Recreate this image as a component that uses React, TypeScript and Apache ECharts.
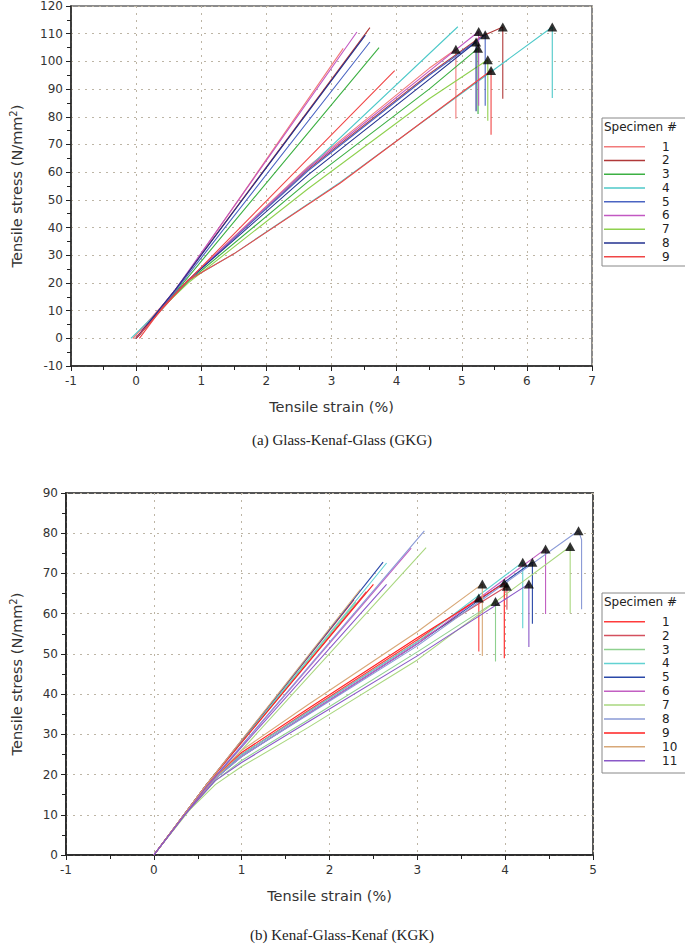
import React, { useEffect, useRef } from 'react';
import * as echarts from 'echarts';

// ---------- (a) Glass-Kenaf-Glass (GKG) ----------
const gkgNames = ['1', '2', '3', '4', '5', '6', '7', '8', '9'];
const gkgColors = ['#f27a7a', '#b03838', '#3cb043', '#4ec9c9', '#4a64c2', '#c258c2', '#8fd14f', '#22308f', '#f04646'];
const gkgStrainRange = [-1, 7];
const gkgStressRange = [-10, 120];
// steep (straight) traces
const gkgSteep: number[][][] = [
  [[-0.05, 0], [0.6, 17], [3.18, 104.7]],
  [[0, 0], [0.6, 17.5], [3.59, 112.2]],
  [[0, 0], [0.6, 16.5], [3.73, 105]],
  [[0, 0], [0.7, 18.5], [4.94, 112.5]],
  [[0, 0], [0.6, 17], [3.59, 107]],
  [[0, 0], [0.6, 17.5], [3.39, 110.6]],
  [],
  [[0, 0], [0.6, 17.5], [3.52, 109.5]],
  [[0, 0], [0.7, 18.5], [3.97, 96.7]],
];
// bilinear traces up to failure
const gkgCurve: number[][][] = [
  [[-0.05, 0], [0.4, 11], [0.8, 21], [2.64, 62], [4.5, 97.5]],
  [[0, 0], [0.4, 11], [0.8, 21], [2.64, 61], [4.5, 95.5], [5.3, 109]],
  [[0, 0], [0.4, 11], [0.8, 20.5], [2.64, 56.6], [4.5, 90]],
  [[-0.08, 0], [0.4, 11], [0.8, 21], [1.5, 30.5], [3.13, 56.3], [5.0, 88.5]],
  [[0, 0], [0.4, 11], [0.8, 21], [2.64, 60.5], [4.5, 95]],
  [[0, 0], [0.4, 11], [0.8, 21], [2.64, 61.5], [4.5, 96.5]],
  [[0, 0], [0.4, 11], [0.8, 20], [2.64, 54], [4.5, 86.5]],
  [[0, 0], [0.4, 11], [0.8, 21], [2.64, 59], [4.5, 93.5]],
  [[0.05, 0], [0.4, 11], [0.8, 21], [1.5, 30.5], [3.13, 56], [4.5, 80]],
];
const gkgFailure: number[][] = [
  [4.91, 104.4], [5.63, 112.4], [5.25, 104.7], [6.39, 112.4], [5.36, 109.6],
  [5.26, 110.8], [5.40, 100.6], [5.22, 107], [5.45, 96.7],
];
const gkgAfter: number[][][] = [
  [[4.91, 79.3]], [[5.63, 86.5]], [[5.25, 81]], [[6.39, 86.8]], [[5.36, 84]],
  [[5.26, 84]], [[5.40, 78.6]], [[5.22, 82]], [[5.45, 73.5]],
];

// ---------- (b) Kenaf-Glass-Kenaf (KGK) ----------
const kgkNames = ['1', '2', '3', '4', '5', '6', '7', '8', '9', '10', '11'];
const kgkColors = ['#ff3b3b', '#d4505e', '#8fd18f', '#62d2d2', '#2a48a8', '#c25fc2', '#a9d77f', '#8a9ad6', '#ff2020', '#d8a878', '#8a58c8'];
const kgkStrainRange = [-1, 5];
const kgkStressRange = [0, 90];
const kgkSteep: number[][][] = [
  [[0, 0], [0.6, 17.5], [2.28, 63.5]],
  [[0, 0], [0.6, 17.5], [2.42, 65.5]],
  [[0, 0], [0.6, 17.5], [2.30, 62.8]],
  [[0, 0], [0.6, 17.5], [2.65, 72.6]],
  [[0, 0], [0.6, 17.5], [2.61, 72.8]],
  [[0, 0], [0.6, 17], [2.93, 76.3]],
  [[0, 0], [0.6, 16.5], [3.10, 76.4]],
  [[0, 0], [0.6, 17], [3.08, 80.6]],
  [[0, 0], [0.6, 17.5], [2.50, 67.3]],
  [[0, 0], [0.6, 17.5], [2.35, 66]],
  [[0, 0], [0.6, 17], [2.65, 67.3]],
];
const kgkCurve: number[][][] = [
  [[0, 0], [0.35, 10], [0.7, 19], [1, 25], [1.75, 35.8], [3, 53.5]],
  [[0, 0], [0.35, 10], [0.7, 19], [1, 25], [1.75, 35.5], [3, 53]],
  [[0, 0], [0.35, 10], [0.7, 18.5], [1, 23.5], [1.75, 33.5], [3, 50.5]],
  [[0, 0], [0.35, 10], [0.7, 19], [1, 25], [1.75, 35.5], [3, 53]],
  [[0, 0], [0.35, 10], [0.7, 19], [1, 24.5], [1.75, 35], [3, 52.5]],
  [[0, 0], [0.35, 10], [0.7, 19], [1, 24.5], [1.75, 35], [3, 52.5]],
  [[0, 0], [0.35, 10], [0.7, 17.5], [1, 22], [1.75, 31.6], [3, 48.5]],
  [[0, 0], [0.35, 10], [0.7, 19], [1, 24.5], [1.75, 34.8], [3, 52]],
  [[0, 0], [0.35, 10], [0.7, 19.5], [1, 25.5], [1.75, 36.3], [3, 54]],
  [[0, 0], [0.35, 10], [0.7, 19.5], [1, 26], [1.75, 37.3], [3, 55.5]],
  [[0, 0], [0.35, 10], [0.7, 18.5], [1, 23], [1.75, 33], [3, 49.5]],
];
const kgkFailure: number[][] = [
  [3.70, 63.9], [4.02, 66.8], [3.89, 63.0], [4.20, 72.8], [4.31, 72.8], [4.46, 76.1],
  [4.74, 76.7], [4.835, 80.6], [3.99, 67.6], [3.74, 67.4], [4.27, 67.4],
];
const kgkAfter: number[][][] = [
  [[3.70, 50.6]], [[4.02, 61]], [[3.89, 48.1]], [[4.20, 56.4]], [[4.31, 57.5]], [[4.46, 59.9]],
  [[4.74, 60.1]], [[4.87, 78.4], [4.87, 61.1]], [[3.99, 48.9]], [[3.74, 49.5]], [[4.27, 51.7]],
];

const FONT = 'DejaVu Sans, Verdana, sans-serif';

function buildSeries(
  names: string[], colors: string[], steep: number[][][], curve: number[][][],
  failure: number[][], after: number[][][], axisIndex: number,
) {
  const out: any[] = [];
  names.forEach((n, i) => {
    if (steep[i].length) {
      out.push({
        type: 'line', name: n, xAxisIndex: axisIndex, yAxisIndex: axisIndex,
        data: steep[i], symbol: 'none', lineStyle: { color: colors[i], width: 1.1 },
        itemStyle: { color: colors[i] }, z: 2,
      });
    }
    out.push({
      type: 'line', name: n, xAxisIndex: axisIndex, yAxisIndex: axisIndex,
      data: [...curve[i], failure[i], ...after[i]], symbol: 'none',
      lineStyle: { color: colors[i], width: 1.1 }, itemStyle: { color: colors[i] }, z: 2,
    });
  });
  out.push({
    type: 'scatter', xAxisIndex: axisIndex, yAxisIndex: axisIndex, data: failure,
    symbol: 'triangle', symbolSize: [10, 9], itemStyle: { color: '#000' }, z: 5,
  });
  return out;
}

function xAxis(gridIndex: number, range: number[], nameGap: number) {
  return {
    type: 'value', gridIndex, min: range[0], max: range[1], interval: 1,
    axisLine: { show: true, onZero: false, lineStyle: { color: '#222', width: 1.5 } },
    axisTick: { show: true, length: 5, lineStyle: { color: '#222' } },
    minorTick: { show: true, splitNumber: 2, length: 4, lineStyle: { color: '#222' } },
    splitLine: { show: true, lineStyle: { type: [2, 5], color: '#bdb5a5', width: 1 } },
    axisLabel: { fontFamily: FONT, fontSize: 12, color: '#333', margin: 9 },
    name: 'Tensile strain (%)', nameLocation: 'middle', nameGap,
    nameTextStyle: { fontFamily: FONT, fontSize: 14.5, color: '#333' },
  };
}

function yAxis(gridIndex: number, range: number[], nameGap: number) {
  return {
    type: 'value', gridIndex, min: range[0], max: range[1], interval: 10,
    axisLine: { show: true, onZero: false, lineStyle: { color: '#222', width: 1.5 } },
    axisTick: { show: true, length: 5, lineStyle: { color: '#222' } },
    minorTick: { show: true, splitNumber: 2, length: 4, lineStyle: { color: '#222' } },
    splitLine: { show: true, lineStyle: { type: [2, 5], color: '#bdb5a5', width: 1 } },
    axisLabel: { fontFamily: FONT, fontSize: 12, color: '#333', margin: 8 },
    name: 'Tensile stress (N/mm{sup|2})', nameLocation: 'middle', nameGap,
    nameTextStyle: {
      fontFamily: FONT, fontSize: 14.5, color: '#333',
      rich: { sup: { fontFamily: FONT, fontSize: 10, color: '#333', verticalAlign: 'top', padding: [0, 0, 7, 0] } },
    },
  };
}

function legendGraphic(names: string[], colors: string[], left: number, top: number, step: number, firstY: number, height: number) {
  const children: any[] = [
    { type: 'rect', shape: { x: left, y: top, width: 100, height }, style: { fill: '#fff', stroke: '#888', lineWidth: 1 } },
    { type: 'text', x: left + 2, y: top + 9, style: { text: 'Specimen #', font: `12px ${FONT}`, fill: '#222', verticalAlign: 'middle' } },
  ];
  names.forEach((n, i) => {
    const y = firstY + i * step;
    children.push({ type: 'line', shape: { x1: left + 2, y1: y, x2: left + 43, y2: y }, style: { stroke: colors[i], lineWidth: 1.5 } });
    children.push({ type: 'text', x: left + 60, y, style: { text: n, font: `12px ${FONT}`, fill: '#222', verticalAlign: 'middle' } });
  });
  return { type: 'group', children };
}

export default function App() {
  const ref = useRef<HTMLDivElement>(null);
  useEffect(() => {
    if (!ref.current) return;
    const chart = echarts.init(ref.current, undefined, { renderer: 'svg' });
    chart.setOption({
      animation: false,
      backgroundColor: '#fff',
      grid: [
        { left: 58, top: 4, width: 534, height: 362, show: true, borderColor: '#666', borderWidth: 1.5 },
        { left: 51, top: 493, width: 542, height: 362, show: true, borderColor: '#555', borderWidth: 2 },
      ],
      xAxis: [xAxis(0, gkgStrainRange, 33), xAxis(1, kgkStrainRange, 33)],
      yAxis: [yAxis(0, gkgStressRange, 46), yAxis(1, kgkStressRange, 41)],
      series: [
        ...buildSeries(gkgNames, gkgColors, gkgSteep, gkgCurve, gkgFailure, gkgAfter, 0),
        ...buildSeries(kgkNames, kgkColors, kgkSteep, kgkCurve, kgkFailure, kgkAfter, 1),
      ],
      graphic: [
        legendGraphic(gkgNames, gkgColors, 602, 118, 13.75, 146.7, 148),
        legendGraphic(kgkNames, kgkColors, 602, 593, 13.9, 621.7, 180),
        { type: 'text', x: 342, y: 440, style: { text: '(a) Glass-Kenaf-Glass (GKG)', font: '15px "Liberation Serif", "Times New Roman", serif', fill: '#222', align: 'center', verticalAlign: 'middle' } },
        { type: 'text', x: 342, y: 935, style: { text: '(b) Kenaf-Glass-Kenaf (KGK)', font: '15px "Liberation Serif", "Times New Roman", serif', fill: '#222', align: 'center', verticalAlign: 'middle' } },
      ],
    });
    return () => chart.dispose();
  }, []);
  return <div ref={ref} style={{ position: 'absolute', left: 0, top: 0, width: 685, height: 949, background: '#fff' }} />;
}
